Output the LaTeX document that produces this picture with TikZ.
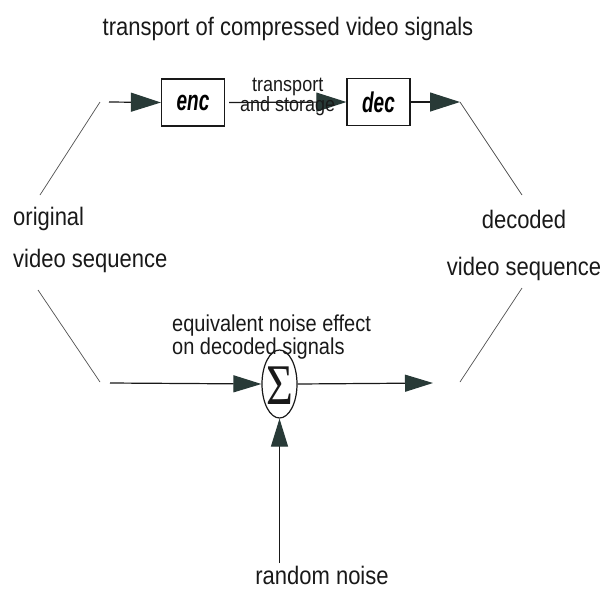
\documentclass[tikz,border=0pt]{standalone}
\usepackage{fontspec}
\setmainfont{Liberation Sans}
\newfontfamily\greekserif{Liberation Serif}
\usetikzlibrary{arrows.meta,shapes.geometric}
\definecolor{tipfill}{RGB}{40,58,55}
\definecolor{ink}{RGB}{25,25,25}
\definecolor{faint}{RGB}{80,80,80}
\newcommand{\fsz}[2]{\fontsize{#1}{#2}\selectfont}
\newcommand{\tallbox}[1]{\scalebox{1}[1.5]{#1}}
\newcommand{\tl}[1]{\scalebox{1}[1.15]{#1}}

\begin{document}
\begin{tikzpicture}[x=1pt,y=-1pt,
  sigarrow/.style={draw=ink, line width=1.2pt,
    -{Triangle[length=30pt,width=19pt,color=tipfill]}},
  lowarrow/.style={draw=ink, line width=1.2pt,
    -{Triangle[length=28pt,width=17pt,color=tipfill]}},
  diag/.style={draw=faint, line width=0.7pt},
  block/.style={draw=ink, line width=1.2pt, minimum width=63pt,
    minimum height=47pt, inner sep=0pt,
    font=\fsz{19}{22}\bfseries\itshape},
  sumnode/.style={draw=ink, line width=1.2pt, ellipse,
    minimum width=35pt, minimum height=68pt, inner sep=0pt},
  txt/.style={inner sep=0pt, text=ink}]

\useasboundingbox (0,0) rectangle (600,590);

% title
\node[txt, anchor=base, font=\fsz{22}{26}] (title) at (288,35)
  {\tl{transport of compressed video signals}};

% coding chain
\node[block] (enc) at (193,102.5) {\tallbox{enc}};
\node[block] (dec) at (378.5,102) {\tallbox{dec}};

\coordinate (inA) at (109,102);
\coordinate (outA) at (460,102);
\coordinate (tlc) at (100,102);
\coordinate (oT) at (40,195);
\coordinate (dT) at (522,195);

\draw[sigarrow] (inA) -- (enc.west);
\draw[sigarrow, shorten <=4pt] (enc.east) -- (dec.west)
  node[txt, midway, xshift=2pt, yshift=4.8pt, align=center,
       font=\fsz{18}{20}] (tslabel) {\tl{transport}\\\tl{and storage}};
\draw[sigarrow] (dec.east) -- (outA);

\draw[diag] (oT) -- (tlc);
\draw[diag] (outA) -- (dT);

% side labels
\node[txt, anchor=west, align=left, font=\fsz{22}{42}] (orig)
  at (13,239.5) {\tl{original}\\\tl{video sequence}};
\node[txt, align=center, font=\fsz{22}{47}] (decd)
  at (524,245) {\tl{decoded}\\\tl{video sequence}};

% noise model
\node[sumnode] (sum) at (279.5,384) {};
\node[txt] (sigma) at (279.5,386)
  {\scalebox{1}[1.25]{\greekserif\fsz{46}{46}Σ}};

\coordinate (inB) at (110,383);
\coordinate (outB) at (433,383);
\coordinate (blc) at (100,382);
\coordinate (brc) at (460,382);
\coordinate (oB) at (38,290);
\coordinate (dB) at (522,288);
\coordinate (nz) at (279.5,563);

\draw[lowarrow] (inB) -- (sum.west);
\draw[lowarrow] (sum.east) -- (outB);
\draw[lowarrow] (nz) -- (sum.south);

\draw[diag] (oB) -- (blc);
\draw[diag] (brc) -- (dB);

\node[txt, anchor=west, align=left, font=\fsz{20}{23}] (eqn)
  at (172,337.5) {\tl{equivalent noise effect}\\\tl{on decoded signals}};
\node[txt, anchor=base, font=\fsz{22}{26}] (noise) at (322,584)
  {\tl{random noise}};

\end{tikzpicture}
\end{document}
